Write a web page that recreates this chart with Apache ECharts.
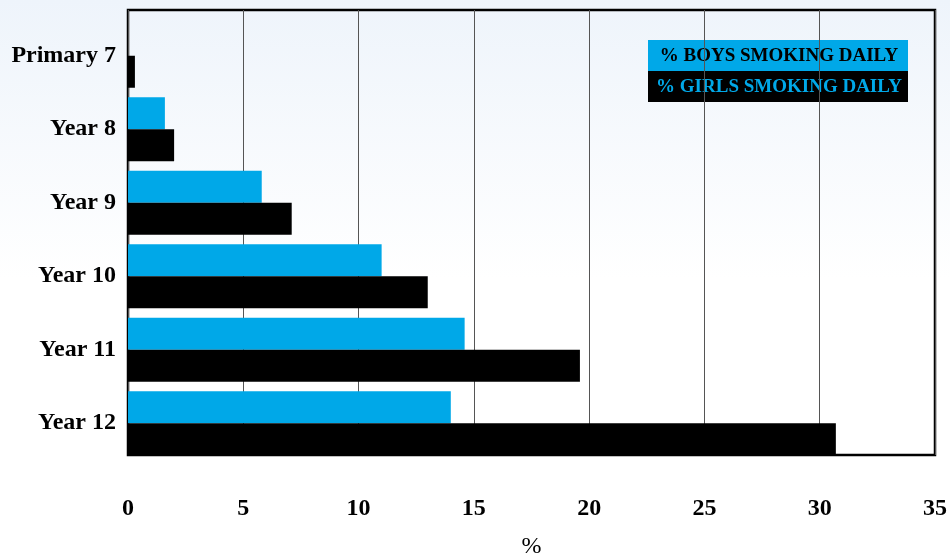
<!DOCTYPE html>
<html>
<head>
<meta charset="utf-8">
<script src="https://cdn.jsdelivr.net/npm/echarts@6/dist/echarts.min.js"></script>
<style>
  html, body { margin: 0; padding: 0; }
  #chart { width: 950px; height: 557px; }
</style>
</head>
<body>
<div id="chart"></div>
<script>
// categories, top to bottom
const categories = ['Primary 7', 'Year 8', 'Year 9', 'Year 10', 'Year 11', 'Year 12'];
// % smoking daily
const boysData = [0, 1.6, 5.8, 11.0, 14.6, 14.0];
const girlsData = [0.3, 2.0, 7.1, 13.0, 19.6, 30.7];
const xTicks = [0, 5, 10, 15, 20, 25, 30, 35];

const boysName = '% BOYS SMOKING DAILY';
const girlsName = '% GIRLS SMOKING DAILY';
const blue = '#00a8e8';
const font = '"Liberation Serif", "DejaVu Serif", serif';

const chart = echarts.init(document.getElementById('chart'));

const option = {
    backgroundColor: {
        type: 'linear', x: 0, y: 0, x2: 0, y2: 1,
        colorStops: [
            { offset: 0, color: '#eef4fb' },
            { offset: 0.5, color: '#ffffff' },
            { offset: 1, color: '#ffffff' }
        ]
    },
    animation: false,
    grid: [
        // frame + gridlines
        { left: 128, top: 10, width: 807, height: 445, outerBoundsMode: 'none', containLabel: false, show: true, borderColor: '#000', borderWidth: 2.5, backgroundColor: 'transparent' },
        // bars
        { left: 128, top: 19, width: 807, height: 441, outerBoundsMode: 'none', containLabel: false }
    ],
    xAxis: [
        {
            gridIndex: 0,
            type: 'value',
            min: xTicks[0],
            max: xTicks[xTicks.length - 1],
            interval: 5,
            name: '%',
            nameLocation: 'middle',
            nameGap: 80,
            nameTextStyle: { fontFamily: font, fontSize: 24, color: '#000' },
            axisLine: { show: false },
            axisTick: { show: false },
            axisLabel: { fontFamily: font, fontWeight: 'bold', fontSize: 24, color: '#000', margin: 42 },
            splitLine: { show: true, lineStyle: { color: '#555', width: 1 } }
        },
        {
            gridIndex: 1,
            type: 'value',
            min: xTicks[0],
            max: xTicks[xTicks.length - 1],
            show: false
        }
    ],
    yAxis: [
        { gridIndex: 0, type: 'value', show: false, splitLine: { show: false } },
        {
            gridIndex: 1,
            type: 'category',
            data: categories,
            inverse: true,
            axisLine: { show: false },
            axisTick: { show: false },
            axisLabel: { fontFamily: font, fontWeight: 'bold', fontSize: 24, color: '#000', margin: 12 }
        }
    ],
    series: [
        {
            name: boysName,
            type: 'bar',
            xAxisIndex: 1,
            yAxisIndex: 1,
            data: boysData,
            barWidth: 32,
            barGap: '0%',
            itemStyle: { color: blue }
        },
        {
            name: girlsName,
            type: 'bar',
            xAxisIndex: 1,
            yAxisIndex: 1,
            data: girlsData,
            barWidth: 32,
            barGap: '0%',
            itemStyle: { color: '#000' }
        }
    ],
    // legend box
    graphic: [
        { type: 'rect', left: 648, top: 40, shape: { width: 260, height: 31 }, style: { fill: blue } },
        { type: 'rect', left: 648, top: 71, shape: { width: 260, height: 31 }, style: { fill: '#000' } },
        {
            type: 'text', x: 779, y: 56,
            style: { text: boysName, fill: '#000', font: 'bold 19px ' + font, textAlign: 'center', textVerticalAlign: 'middle' }
        },
        {
            type: 'text', x: 779, y: 87,
            style: { text: girlsName, fill: blue, font: 'bold 19px ' + font, textAlign: 'center', textVerticalAlign: 'middle' }
        }
    ]
};

chart.setOption(option);
</script>
</body>
</html>
